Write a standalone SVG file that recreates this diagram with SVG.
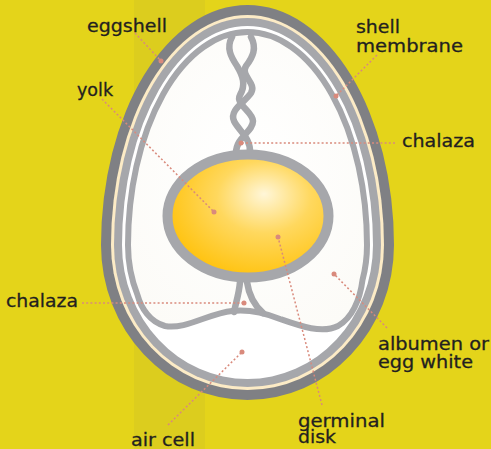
<svg xmlns="http://www.w3.org/2000/svg" width="491" height="449" viewBox="0 0 491 449">
  <defs>
    <radialGradient id="yolkFill" cx="0.6" cy="0.38" r="0.65" fx="0.6" fy="0.32">
      <stop offset="0" stop-color="#FFF6D8"/>
      <stop offset="0.45" stop-color="#FFD85E"/>
      <stop offset="1" stop-color="#FFC20C"/>
    </radialGradient>
    <radialGradient id="albumenFill" cx="0.5" cy="0.45" r="0.65">
      <stop offset="0" stop-color="#FFFFFF"/>
      <stop offset="1" stop-color="#FCFBF7"/>
    </radialGradient>
    <style>
      .label { font-family: "DejaVu Sans", "Liberation Sans", sans-serif; font-size: 18px; fill: #231F20; stroke: #231F20; stroke-width: 0.3; }
      .leader { fill: none; stroke: #D98A7C; stroke-width: 1.5; stroke-dasharray: 2 2.2; }
      .dot { fill: #D98A7C; }
      .strand { fill: none; stroke: #A6A7AB; stroke-width: 6.5; stroke-linecap: round; stroke-linejoin: round; }
    </style>
  </defs>

  <!-- background with a faint vertical band -->
  <rect x="0" y="0" width="491" height="449" fill="#E4D41A"/>
  <rect x="134" y="0" width="71" height="449" fill="#DCCD1E"/>

  <!-- egg layers: two half-ellipses centred at (247.5,245) -->
  <g id="eggshell">
    <path d="M101,245 A146.5,240 0 0 1 394,245 A146.5,155 0 0 1 101,245 Z" fill="#7F8084"/>
    <path d="M111,245 A136.5,230 0 0 1 384,245 A136.5,145 0 0 1 111,245 Z" fill="#FCEBC6"/>
  </g>
  <g id="shell-membrane">
    <path d="M114,245 A133.5,227 0 0 1 381,245 A133.5,142 0 0 1 114,245 Z" fill="#A6A7AB"/>
    <path d="M122,245 A125.5,219 0 0 1 373,245 A125.5,134 0 0 1 122,245 Z" fill="#FFFFFF"/>
  </g>
  <g id="albumen">
    <path d="M137.5,295 A119.5,128 0 0 1 128,245 A119.5,213 0 0 1 367,245 A119.5,128 0 0 1 362.5,280 C360,300 352,318 338,326 C322,334 300,326 280,319 C265,313 250,309 232,311 C210,313 185,330 165,326 C150,322 141,308 137.5,295 Z" fill="url(#albumenFill)" stroke="#A6A7AB" stroke-width="6" stroke-linejoin="round"/>
  </g>

  <!-- chalazae -->
  <g id="chalaza-upper">
    <path class="strand" d="M232,37 C226,48 231,57 237,66 C243,76 246,85 240,95 C235,104 253,112 253,121 C253,132 236,137 236,153"/>
    <path class="strand" d="M251,37 C257,48 253,57 246,66 C240,76 257,83 251,93 C245,102 229,110 234,121 C239,131 251,138 250,153"/>
  </g>
  <g id="chalaza-lower">
    <path class="strand" d="M240,282 C239,294 236,302 234,312"/>
    <path class="strand" d="M247,282 C249,296 254,305 263,313"/>
  </g>

  <!-- yolk with vitelline membrane -->
  <g id="yolk">
    <ellipse cx="248" cy="216" rx="80.5" ry="61.5" fill="url(#yolkFill)" stroke="#A6A7AB" stroke-width="10"/>
  </g>

  <!-- leader lines -->
  <g id="connectors">
    <path class="leader" d="M135,33 L161,61"/>
    <circle class="dot" cx="161" cy="61" r="2.5"/>
    <path class="leader" d="M102,99 L214,212"/>
    <circle class="dot" cx="214" cy="212" r="2.5"/>
    <path class="leader" d="M377,55 L336,96"/>
    <circle class="dot" cx="336" cy="96" r="2.5"/>
    <path class="leader" d="M395,143 L241,143"/>
    <circle class="dot" cx="241" cy="143" r="2.5"/>
    <path class="leader" d="M82,303 L244,303"/>
    <circle class="dot" cx="244" cy="303" r="2.5"/>
    <path class="leader" d="M387,328 L334,274"/>
    <circle class="dot" cx="334" cy="274" r="2.5"/>
    <path class="leader" d="M322,405 L278,237"/>
    <circle class="dot" cx="278" cy="237" r="2.5"/>
    <path class="leader" d="M168,425 L242,352"/>
    <circle class="dot" cx="242" cy="352" r="2.5"/>
  </g>

  <!-- labels -->
  <g id="labels">
    <text class="label" x="87" y="32" textLength="80" lengthAdjust="spacingAndGlyphs">eggshell</text>
    <text class="label" x="77" y="96" textLength="36" lengthAdjust="spacingAndGlyphs">yolk</text>
    <text class="label" x="356" y="33" textLength="44" lengthAdjust="spacingAndGlyphs">shell</text>
    <text class="label" x="356" y="52" textLength="107" lengthAdjust="spacingAndGlyphs">membrane</text>
    <text class="label" x="402" y="147" textLength="73" lengthAdjust="spacingAndGlyphs">chalaza</text>
    <text class="label" x="6" y="307" textLength="72" lengthAdjust="spacingAndGlyphs">chalaza</text>
    <text class="label" x="378" y="350" textLength="111" lengthAdjust="spacingAndGlyphs">albumen or</text>
    <text class="label" x="378" y="368" textLength="95" lengthAdjust="spacingAndGlyphs">egg white</text>
    <text class="label" x="298" y="427" textLength="87" lengthAdjust="spacingAndGlyphs">germinal</text>
    <text class="label" x="298" y="443" textLength="38" lengthAdjust="spacingAndGlyphs">disk</text>
    <text class="label" x="131" y="446" textLength="64" lengthAdjust="spacingAndGlyphs">air cell</text>
  </g>
</svg>
